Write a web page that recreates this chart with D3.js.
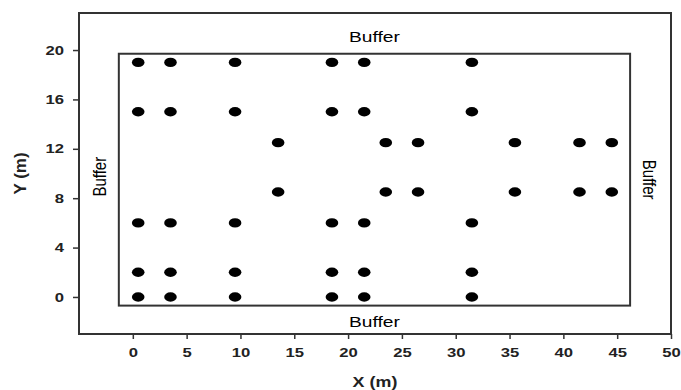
<!DOCTYPE html>
<html>
<head>
<meta charset="utf-8">
<script src="https://cdn.jsdelivr.net/npm/d3@7"></script>
<style>
  body { margin: 0; background: #fff; }
  svg { font-family: "Liberation Sans", Arial, sans-serif; }
</style>
</head>
<body>
<div id="chart"></div>
<script>
// plot positions (m)
const rowXs = [0.5, 3.5, 9.5, 18.5, 21.5, 31.5];
const rowYs = [19, 15, 6, 2, 0];
const midXs = [13.5, 23.5, 26.5, 35.5, 41.5, 44.5];
const midYs = [12.5, 8.5];

const xTicks = [0, 5, 10, 15, 20, 25, 30, 35, 40, 45, 50];
const yTicks = [0, 4, 8, 12, 16, 20];

// inner plot boundary (m)
const plotX = [-1.3, 46.2];
const plotY = [-0.7, 19.7];

const points = [];
rowYs.forEach(y => rowXs.forEach(x => points.push({ x, y })));
midYs.forEach(y => midXs.forEach(x => points.push({ x, y })));

const W = 681, H = 390;
const margin = { top: 13, right: 10, bottom: 56, left: 79 };
const width = W - margin.left - margin.right;
const height = H - margin.top - margin.bottom;
// the original picture is a bit wider than tall, text looks stretched
const stretch = 1.28;

const svg = d3.select('#chart')
  .append('svg')
  .attr('width', W)
  .attr('height', H);

const g = svg.append('g')
  .attr('transform', `translate(${margin.left},${margin.top})`);

const x = d3.scaleLinear().domain([-5, 50]).range([0, width]);
const y = d3.scaleLinear().domain([-3, 23]).range([height, 0]);

// outer frame
g.append('rect')
  .attr('width', width)
  .attr('height', height)
  .attr('fill', 'none')
  .attr('stroke', '#333')
  .attr('stroke-width', 2);

// axes
const xAxis = g.append('g')
  .attr('transform', `translate(0,${height})`)
  .call(d3.axisBottom(x).tickValues(xTicks).tickSize(5).tickPadding(9));
const yAxis = g.append('g')
  .call(d3.axisLeft(y).tickValues(yTicks).tickSize(6).tickPadding(7));

[xAxis, yAxis].forEach(a => {
  a.select('.domain').remove();
  a.selectAll('.tick line').attr('stroke', '#333').attr('stroke-width', 1.5);
  a.selectAll('.tick text')
    .attr('fill', '#222')
    .style('font-size', '13px')
    .style('font-weight', 'bold');
});
xAxis.selectAll('.tick text').attr('transform', `scale(${stretch},1)`);
yAxis.selectAll('.tick text')
  .attr('x', -15 / stretch)
  .attr('transform', `scale(${stretch},1)`);

// inner plot boundary
g.append('rect')
  .attr('x', x(plotX[0]))
  .attr('y', y(plotY[1]))
  .attr('width', x(plotX[1]) - x(plotX[0]))
  .attr('height', y(plotY[0]) - y(plotY[1]))
  .attr('fill', 'none')
  .attr('stroke', '#333')
  .attr('stroke-width', 2);

// trees
g.selectAll('.pt')
  .data(points)
  .enter()
  .append('ellipse')
  .attr('class', 'pt')
  .attr('cx', d => x(d.x))
  .attr('cy', d => y(d.y))
  .attr('rx', 6.3)
  .attr('ry', 4.7)
  .attr('fill', '#000');

// buffer labels
const midX = (x(plotX[0]) + x(plotX[1])) / 2;
const midY = (y(plotY[0]) + y(plotY[1])) / 2;
g.append('text').text('Buffer')
  .attr('transform', `translate(${midX},${y(plotY[1]) - 12}) scale(${stretch},1)`)
  .attr('text-anchor', 'middle').style('font-size', '15px');
g.append('text').text('Buffer')
  .attr('transform', `translate(${midX},${y(plotY[0]) + 21}) scale(${stretch},1)`)
  .attr('text-anchor', 'middle').style('font-size', '15px');
g.append('text').text('Buffer')
  .attr('transform', `translate(${x(plotX[0]) - 20},${midY - 3}) rotate(-90) scale(1,${stretch})`)
  .attr('text-anchor', 'middle').attr('dy', '0.35em').style('font-size', '15px');
g.append('text').text('Buffer')
  .attr('transform', `translate(${x(plotX[1]) + 20},${midY}) rotate(90) scale(1,${stretch})`)
  .attr('text-anchor', 'middle').attr('dy', '0.35em').style('font-size', '15px');

// axis titles
svg.append('text').text('X (m)')
  .attr('transform', `translate(${margin.left + x(22.5)},387) scale(${stretch},1)`)
  .attr('text-anchor', 'middle')
  .style('font-size', '14px').style('font-weight', 'bold').attr('fill', '#222');
svg.append('text').text('Y (m)')
  .attr('transform', `translate(20,${margin.top + y(10)}) rotate(-90)`)
  .attr('text-anchor', 'middle').attr('dy', '0.35em')
  .style('font-size', '17px').style('font-weight', 'bold').attr('fill', '#222');
</script>
</body>
</html>
